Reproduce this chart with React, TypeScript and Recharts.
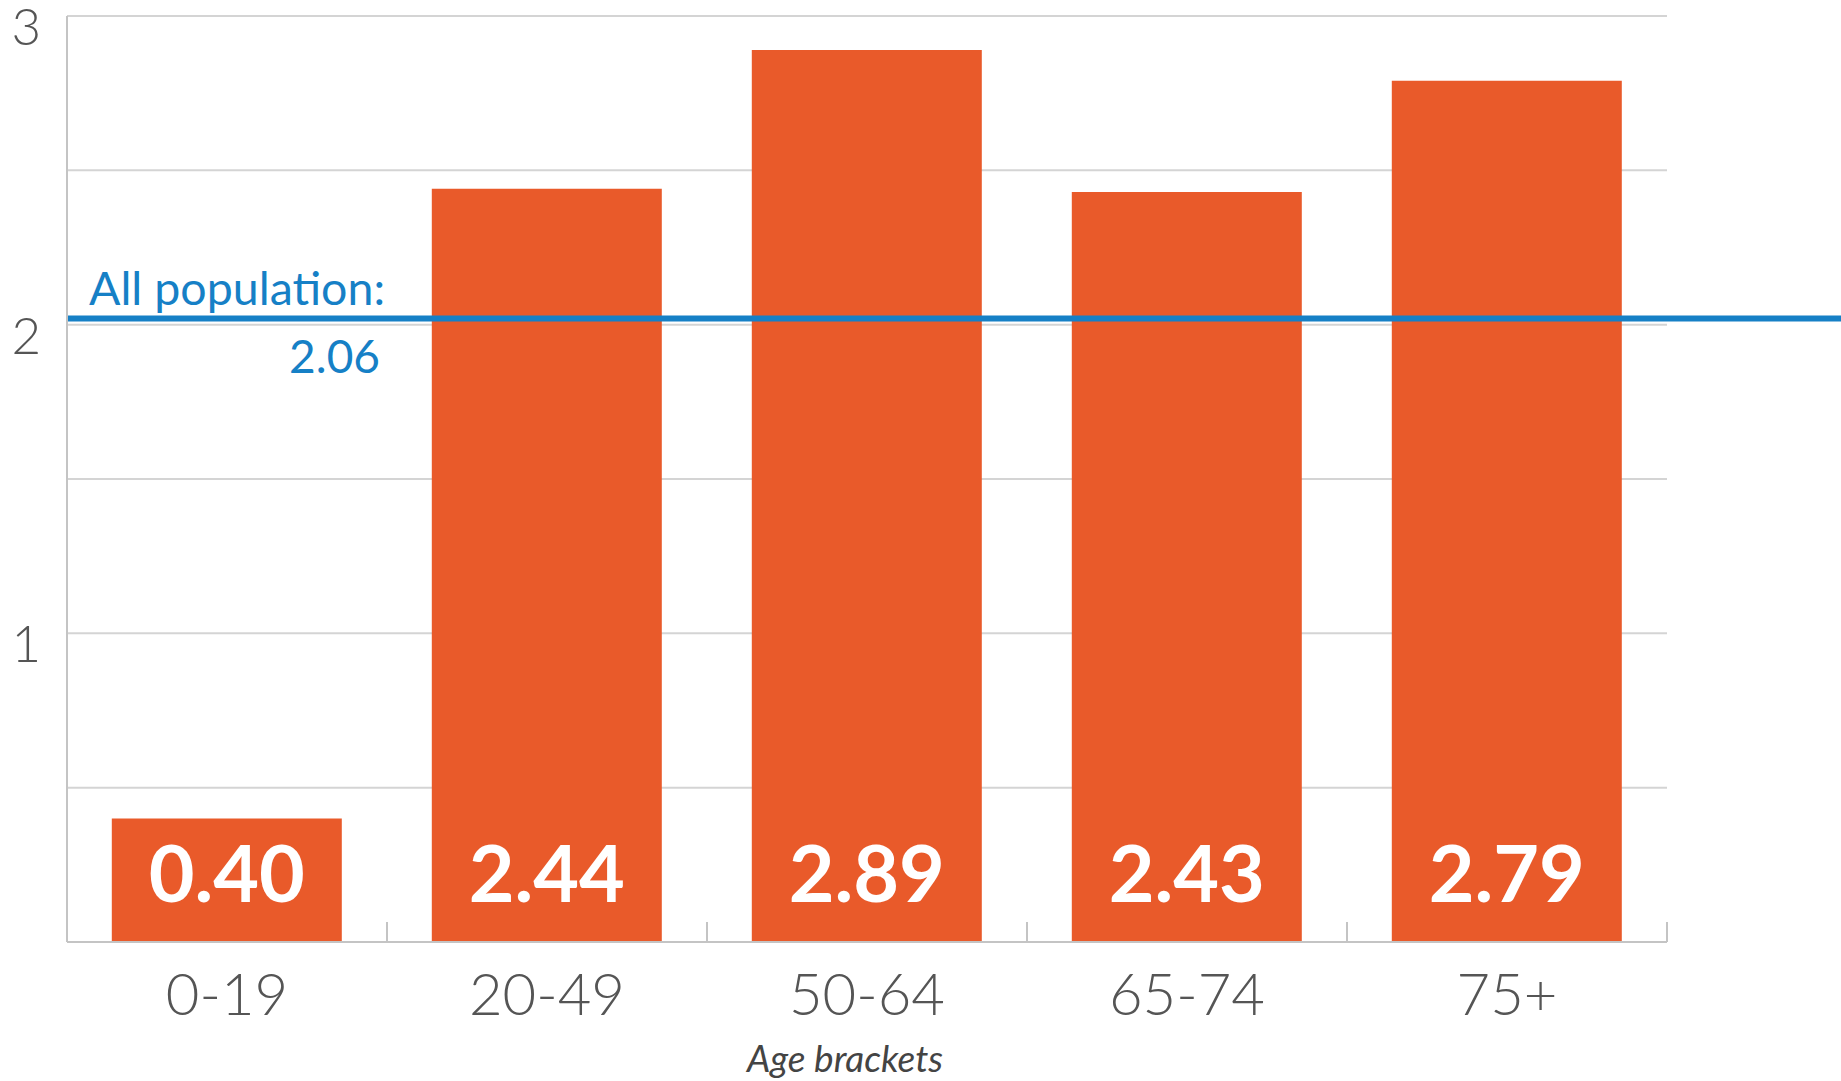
import {
  BarChart,
  Bar,
  XAxis,
  YAxis,
  CartesianGrid,
  ReferenceLine,
  LabelList,
} from "recharts";

const CHART_W = 1841;
const CHART_H = 1081;
const FONT = "Lato, 'Open Sans', sans-serif";

const categories = ["0-19", "20-49", "50-64", "65-74", "75+"];
const rates = [0.4, 2.44, 2.89, 2.43, 2.79];
const yTicks = [0, 0.5, 1, 1.5, 2, 2.5, 3];
const yLabelled = [1, 2, 3];
const allPopulationText = "2.06";
const allPopulationLevel = 2.02;

const COLORS = {
  bar: "#E95A2A",
  blue: "#1680C6",
  grid: "#D4D4D4",
  axis: "#C4C4C4",
  text: "#555555",
};

const data = categories.map((c, i) => ({ age: c, rate: rates[i] }));

function YTick(props: any) {
  const { x, y, payload } = props;
  if (!yLabelled.includes(payload.value)) return null;
  return (
    <text
      x={x}
      y={y + 29}
      textAnchor="end"
      fill={COLORS.text}
      fontFamily={FONT}
      fontWeight={300}
      fontSize={51}
    >
      {payload.value}
    </text>
  );
}

function XTick(props: any) {
  const { x, y, payload } = props;
  return (
    <text
      x={x}
      y={y + 73}
      textAnchor="middle"
      fill={COLORS.text}
      fontFamily={FONT}
      fontWeight={300}
      fontSize={58}
    >
      {payload.value}
    </text>
  );
}

function ValueLabel(props: any) {
  const { x, y, width, height, value } = props;
  return (
    <text
      x={x + width / 2}
      y={y + height - 40}
      textAnchor="middle"
      fill="#FFFFFF"
      fontFamily={FONT}
      fontWeight={700}
      fontSize={79}
    >
      {Number(value).toFixed(2)}
    </text>
  );
}

// little boundary ticks standing on the baseline
function EdgeTick(props: any) {
  const bottom = Math.max(props.y1, props.y2);
  return (
    <line
      x1={props.x1}
      x2={props.x1}
      y1={bottom - 20}
      y2={bottom}
      stroke={COLORS.axis}
      strokeWidth={2}
    />
  );
}

function PopulationLine(props: any) {
  const { x1, y1 } = props;
  return (
    <g>
      <line x1={x1} x2={CHART_W} y1={y1} y2={y1} stroke={COLORS.blue} strokeWidth={6} />
      <text
        x={x1 + 22}
        y={y1 - 13}
        fill={COLORS.blue}
        fontFamily={FONT}
        fontSize={46.5}
      >
        All population:
      </text>
      <text
        x={x1 + 313}
        y={y1 + 55}
        textAnchor="end"
        fill={COLORS.blue}
        fontFamily={FONT}
        fontSize={46}
      >
        {allPopulationText}
      </text>
    </g>
  );
}

export default function App() {
  return (
    <div style={{ position: "absolute", left: 0, top: 0, background: "#fff" }}>
      <BarChart
        width={CHART_W}
        height={CHART_H}
        data={data}
        margin={{ top: 16, right: 174, bottom: 0, left: 0 }}
        barCategoryGap="14%"
      >
        <CartesianGrid
          vertical={false}
          stroke={COLORS.grid}
          strokeWidth={2}
        />
        <XAxis
          dataKey="age"
          height={139}
          stroke={COLORS.axis}
          strokeWidth={2}
          tickLine={false}
          tickSize={0}
          tickMargin={0}
          tick={<XTick />}
          interval={0}
          label={{
            value: "Age brackets",
            position: "insideBottom",
            offset: 9,
            dx: -22,
            fill: "#444",
            fontFamily: FONT,
            fontStyle: "italic",
            fontSize: 37,
          }}
        />
        <YAxis
          width={67}
          domain={[0, 3]}
          ticks={yTicks}
          interval={0}
          stroke={COLORS.axis}
          strokeWidth={2}
          tickLine={false}
          tickSize={0}
          tickMargin={26}
          tick={<YTick />}
        />
        <Bar dataKey="rate" fill={COLORS.bar} isAnimationActive={false}>
          <LabelList dataKey="rate" content={<ValueLabel />} />
        </Bar>
        {categories.map((c) => (
          <ReferenceLine key={c} x={c} position="end" shape={EdgeTick} />
        ))}
        <ReferenceLine y={allPopulationLevel} shape={PopulationLine} />
      </BarChart>
    </div>
  );
}
